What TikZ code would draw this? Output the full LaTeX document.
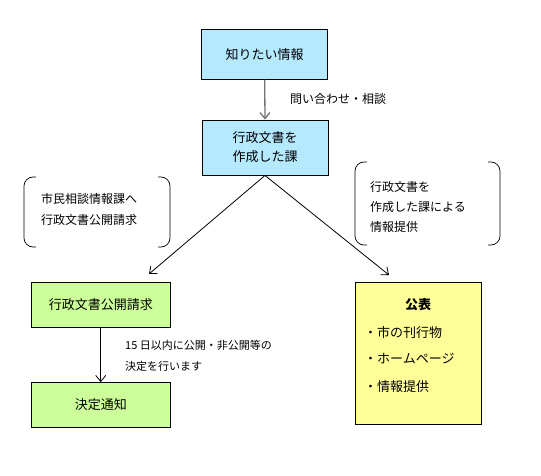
\documentclass[tikz,border=0pt]{standalone}
\usepackage{fontspec}
\setmainfont{Noto Sans CJK JP}
\usetikzlibrary{arrows.meta}
\definecolor{boxblue}{RGB}{180,233,255}
\definecolor{boxgreen}{RGB}{204,255,153}
\definecolor{boxyellow}{RGB}{255,255,153}
\begin{document}
\begin{tikzpicture}[x=1pt,y=-1pt,
  box/.style={draw=black, line width=0.9pt, inner sep=0pt, align=center, font=\fontsize{13}{19}\selectfont},
  arr/.style={-{Straight Barb[length=6pt,width=10pt]}, line width=0.8pt},
  lbl/.style={inner sep=0pt, anchor=west, align=left},
  bracket/.style={line width=0.7pt, rounded corners=9pt},
]
\useasboundingbox (0,0) rectangle (541,476);
\fill[white] (0,0) rectangle (541,476);

% boxes
\node[box, fill=boxblue, minimum width=126pt, minimum height=50pt] (info) at (264.7,54.3) {知りたい情報};
\node[box, fill=boxblue, minimum width=126pt, minimum height=55pt] (dept) at (265,147.5) {行政文書を\\作成した課};
\node[box, fill=boxgreen, minimum width=139.5pt, minimum height=44.3pt] (req) at (100.75,304.85) {行政文書公開請求};
\node[box, fill=boxgreen, minimum width=139.5pt, minimum height=44.5pt] (notice) at (100.75,404.75) {決定通知};
\node[box, fill=boxyellow, minimum width=126.2pt, minimum height=141.5pt] (pub) at (418.6,353.25) {};

% yellow box texts
\node[inner sep=0pt, font=\fontsize{13}{19}\selectfont\bfseries] (pubt) at (418,305) {公表};
\node[lbl, font=\fontsize{13}{19}\selectfont] (pub1) at (364,333) {・市の刊行物};
\node[lbl, font=\fontsize{13}{19}\selectfont] (pub2) at (364,359) {・ホームページ};
\node[lbl, font=\fontsize{13}{19}\selectfont] (pub3) at (364,387) {・情報提供};

% arrows
\draw[arr, draw=black!55, line width=1.3pt] (info.south) -- (dept.north);
\node[lbl, font=\fontsize{12}{18}\selectfont] (ask) at (290,99) {問い合わせ・相談};

\coordinate (la) at (149,274);
\coordinate (ra) at (389,275);
\draw[arr] (dept.south) -- (la);
\draw[arr] (dept.south) -- (ra);

\draw[arr] (req.south) -- (notice.north);
\node[lbl, font=\fontsize{11}{21}\selectfont] (days) at (125,355.5) {15 日以内に公開・非公開等の\\決定を行います};

% bracket notes
\node[lbl, font=\fontsize{12}{21}\selectfont] (lnote) at (41,209) {市民相談情報課へ\\行政文書公開請求};
\draw[bracket] (36,177) -- (24,177) -- (24,247) -- (36,247);
\draw[bracket] (158,177) -- (170,177) -- (170,247) -- (158,247);

\node[lbl, font=\fontsize{12}{19.7}\selectfont] (rnote) at (370,207) {行政文書を\\作成した課による\\情報提供};
\draw[bracket] (367,162) -- (355,162) -- (355,245) -- (367,245);
\draw[bracket] (488,162) -- (500,162) -- (500,245) -- (488,245);
\end{tikzpicture}
\end{document}
